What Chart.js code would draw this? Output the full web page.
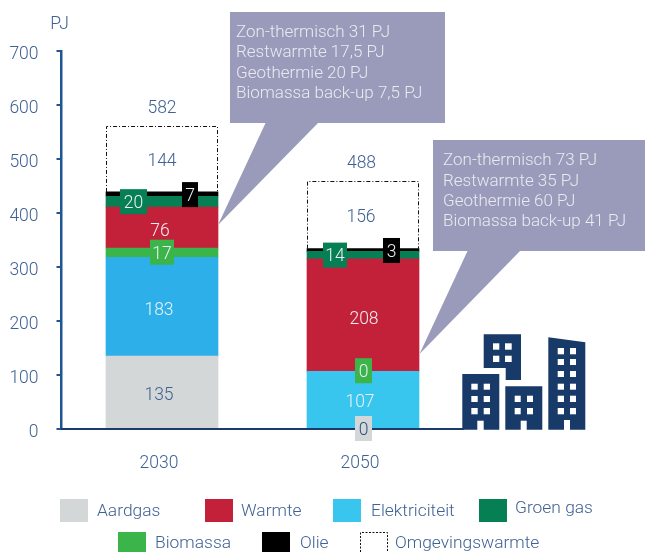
<!DOCTYPE html>
<html lang="nl">
<head>
<meta charset="utf-8">
<style>html,body{margin:0;padding:0;background:#fff}canvas{display:block}</style>
<script src="https://cdn.jsdelivr.net/npm/chart.js@4/dist/chart.umd.min.js"></script>
</head>
<body>
<canvas id="c" width="645" height="552"></canvas>
<script>
const categories = ['2030', '2050'];
const yTicks = [0, 100, 200, 300, 400, 500, 600, 700];

// Heights as drawn in the picture
const aardgas = [135, 0];
const elektriciteit = [183, 107];
const biomassa = [17, 0];
const warmte = [76, 208];
const groenGas = [20, 14];
const olie = [8, 5];
const omgevingswarmte = [122, 125];

// Numbers as printed in the picture
const printedOlie = [7, 3];
const printedOmgeving = [144, 156];
const totals = [582, 488];

const calloutLeft = ['Zon-thermisch 31 PJ', 'Restwarmte 17,5 PJ', 'Geothermie 20 PJ', 'Biomassa back-up 7,5 PJ'];
const calloutRight = ['Zon-thermisch 73 PJ', 'Restwarmte 35 PJ', 'Geothermie 60 PJ', 'Biomassa back-up 41 PJ'];

const FONT = '300 17.5px Roboto, "Liberation Sans", sans-serif';
const FONT_CALLOUT = '300 17px Roboto, "Liberation Sans", sans-serif';
const FONT_LEGEND = '300 17.4px Roboto, "Liberation Sans", sans-serif';
const BLUE_TEXT = '#3F6193';
const LIGHT_TEXT = '#EDF1F5';
const C = {
  grey: '#D3D7D7', red: '#C3203A', sky: '#2DB0EA', sky2: '#38C5EE',
  green: '#077F55', lime: '#3BB54A', black: '#000000',
  callout: '#9A9BBA', callText: '#E9EAF1', navy: '#173A68'
};

const datasets = [
  { label: 'Aardgas', data: aardgas, backgroundColor: C.grey },
  { label: 'Elektriciteit', data: elektriciteit, backgroundColor: [C.sky, C.sky2] },
  { label: 'Biomassa', data: biomassa, backgroundColor: C.lime },
  { label: 'Warmte', data: warmte, backgroundColor: C.red },
  { label: 'Groen gas', data: groenGas, backgroundColor: C.green },
  { label: 'Olie', data: olie, backgroundColor: C.black },
  { label: 'Omgevingswarmte', data: omgevingswarmte, backgroundColor: 'rgba(0,0,0,0)' }
].map(d => Object.assign(d, { stack: 's', barThickness: 112, borderWidth: 0 }));

// Data-label placement, one entry per dataset per bar: offset from the bar segment centre, optional box
const labelLayout = {
  Aardgas: [{ dx: -3, dy: 2, color: BLUE_TEXT }, { dx: 0.5, dy: -0.5, box: C.grey, w: 17, h: 25, color: '#2F4C7E' }],
  Elektriciteit: [{ dx: -3, dy: 2, color: LIGHT_TEXT }, { dx: -3, dy: 1.5, color: LIGHT_TEXT }],
  Biomassa: [{ dx: 0, dy: -0.5, box: C.lime, w: 24, h: 25, color: LIGHT_TEXT }, { dx: 0.5, dy: -0.5, box: C.lime, w: 17, h: 25, color: LIGHT_TEXT }],
  Warmte: [{ dx: -2, dy: 2, color: LIGHT_TEXT }, { dx: 1, dy: 2.5, color: LIGHT_TEXT }],
  'Groen gas': [{ dx: -28.5, dy: 0, box: C.green, w: 27, h: 25, color: LIGHT_TEXT }, { dx: -28, dy: 0, box: C.green, w: 24, h: 25, color: LIGHT_TEXT }],
  Olie: [{ dx: 28, dy: 0.5, box: C.black, w: 16, h: 25, color: LIGHT_TEXT }, { dx: 28.5, dy: 0.5, box: C.black, w: 17, h: 25, color: LIGHT_TEXT }],
  Omgevingswarmte: [{ dx: 0, dy: 0.5, color: BLUE_TEXT }, { dx: -2, dy: 0.5, color: BLUE_TEXT }]
};
const printedValue = (name, i, v) => name === 'Olie' ? printedOlie[i] : name === 'Omgevingswarmte' ? printedOmgeving[i] : v;

const legendRows = [
  { name: 'Aardgas', color: C.grey, sx: 60, tx: 97, top: 499, h: 23, ty: 512 },
  { name: 'Warmte', color: C.red, sx: 205, tx: 241, top: 499, h: 23, ty: 512 },
  { name: 'Elektriciteit', color: C.sky2, sx: 333, tx: 371, top: 499, h: 23, ty: 512 },
  { name: 'Groen gas', color: C.green, sx: 479, tx: 515, top: 499, h: 23, ty: 509 },
  { name: 'Biomassa', color: C.lime, sx: 118, tx: 155, top: 532, h: 20, ty: 544 },
  { name: 'Olie', color: C.black, sx: 262, tx: 300, top: 532, h: 20, ty: 544 },
  { name: 'Omgevingswarmte', color: null, sx: 360, tx: 395, top: 532, h: 20, ty: 544 }
];

function rect(ctx, x0, y0, x1, y1) { ctx.fillRect(x0, y0, x1 - x0, y1 - y0); }

function drawBuildings(ctx) {
  const poly = pts => { ctx.beginPath(); pts.forEach((p, i) => i ? ctx.lineTo(p[0], p[1]) : ctx.moveTo(p[0], p[1])); ctx.closePath(); ctx.fill(); };
  ctx.fillStyle = C.navy;
  poly([[462.3, 374], [499.3, 374], [499.3, 429.7], [462.3, 429.7]]);
  poly([[505.3, 386.3], [542.3, 386.3], [542.3, 429.7], [505.3, 429.7]]);
  poly([[483.7, 334.3], [521, 334.3], [521, 380], [505.7, 380], [505.7, 368], [483.7, 368]]);
  poly([[548.3, 337.3], [585.3, 342.3], [585.3, 429.7], [548.3, 429.7]]);
  ctx.fillStyle = '#fff';
  const win = (xs, ys) => xs.forEach(x => ys.forEach(y => rect(ctx, x[0], y[0], x[1], y[1])));
  win([[471.3, 477.7], [483.7, 490]], [[383.7, 389.7], [396, 402], [408, 414.3]]);
  win([[514.7, 520.7], [527, 533]], [[395.7, 402], [408, 414.3]]);
  win([[493, 499.3], [505, 511.7]], [[343.3, 349.7], [355.7, 362]]);
  win([[557.7, 564], [570, 576]], [[348, 354.3], [359, 365], [371, 377], [383.7, 389.7], [395.7, 402], [408, 414.3]]);
  rect(ctx, 477.3, 420.7, 483.7, 430);
  rect(ctx, 520.7, 420.7, 526.7, 430);
  rect(ctx, 564, 420, 570, 430);
}

function drawCallout(ctx, box, pointer, lines, textX, textYs) {
  ctx.fillStyle = C.callout;
  rect(ctx, box[0], box[1], box[2], box[3]);
  ctx.beginPath();
  ctx.moveTo(pointer[0][0], pointer[0][1]);
  ctx.lineTo(pointer[1][0], pointer[1][1]);
  ctx.lineTo(pointer[2][0], pointer[2][1]);
  ctx.closePath();
  ctx.fill();
  ctx.fillStyle = C.callText;
  ctx.font = FONT_CALLOUT;
  ctx.textAlign = 'left';
  ctx.textBaseline = 'middle';
  lines.forEach((t, i) => ctx.fillText(t, textX, textYs[i]));
}

const overlay = {
  id: 'overlay',
  afterDatasetsDraw(chart) {
    const ctx = chart.ctx;
    ctx.save();
    // Dashed outline of the Omgevingswarmte segment
    const last = chart.data.datasets.length - 1;
    ctx.strokeStyle = '#111';
    ctx.lineWidth = 1;
    ctx.setLineDash([4, 2, 1, 2]);
    chart.getDatasetMeta(last).data.forEach(el => {
      const x0 = el.x - el.width / 2, x1 = el.x + el.width / 2;
      ctx.beginPath();
      ctx.moveTo(Math.round(x0) + 0.5, el.base);
      ctx.lineTo(Math.round(x0) + 0.5, Math.round(el.y) + 0.5);
      ctx.lineTo(Math.round(x1) - 0.5, Math.round(el.y) + 0.5);
      ctx.lineTo(Math.round(x1) - 0.5, el.base);
      ctx.stroke();
    });
    ctx.setLineDash([]);
    ctx.restore();
  },
  afterDraw(chart) {
    const ctx = chart.ctx;
    ctx.save();
    drawCallout(ctx, [230, 12, 445, 123], [[266, 122], [319, 122], [218, 225]], calloutLeft, 236, [32.5, 52.5, 73.5, 93.5]);
    drawCallout(ctx, [433, 140, 645, 251], [[468, 250], [521, 250], [419.5, 354]], calloutRight, 443, [160.5, 181.5, 201.5, 221.5]);
    drawBuildings(ctx);

    // Data labels
    ctx.font = FONT;
    ctx.textAlign = 'center';
    ctx.textBaseline = 'middle';
    chart.data.datasets.forEach((ds, d) => {
      const layout = labelLayout[ds.label];
      chart.getDatasetMeta(d).data.forEach((el, i) => {
        const l = layout[i];
        const cx = el.x + l.dx, cy = (el.y + el.base) / 2 + l.dy;
        if (l.box) {
          ctx.fillStyle = l.box;
          ctx.fillRect(cx - l.w / 2, cy - l.h / 2, l.w, l.h);
        }
        ctx.fillStyle = l.color;
        ctx.fillText(String(printedValue(ds.label, i, ds.data[i])), cx, cy + 2);
      });
    });

    // Totals above the stacks
    const topMeta = chart.getDatasetMeta(chart.data.datasets.length - 1);
    ctx.fillStyle = BLUE_TEXT;
    totals.forEach((t, i) => ctx.fillText(String(t), topMeta.data[i].x + (i ? -1.5 : 0), topMeta.data[i].y - 17.5));

    // Unit
    ctx.fillText('PJ', 59.5, 24.5);

    // Legend
    ctx.font = FONT_LEGEND;
    ctx.textAlign = 'left';
    legendRows.forEach(r => {
      if (r.color) {
        ctx.fillStyle = r.color;
        ctx.fillRect(r.sx, r.top, 28, r.h);
      } else {
        ctx.strokeStyle = '#111';
        ctx.lineWidth = 1;
        ctx.setLineDash([2, 1.5]);
        ctx.beginPath();
        ctx.moveTo(r.sx + 0.5, r.top + r.h);
        ctx.lineTo(r.sx + 0.5, r.top + 0.5);
        ctx.lineTo(r.sx + 27.5, r.top + 0.5);
        ctx.lineTo(r.sx + 27.5, r.top + r.h);
        ctx.stroke();
        ctx.setLineDash([]);
      }
      ctx.fillStyle = BLUE_TEXT;
      ctx.fillText(r.name, r.tx, r.ty);
    });
    ctx.restore();
  }
};

new Chart(document.getElementById('c'), {
  type: 'bar',
  data: { labels: categories, datasets },
  plugins: [overlay],
  options: {
    responsive: false,
    animation: false,
    events: [],
    layout: { padding: { top: 51, right: 181.5, bottom: 0, left: 0 } },
    plugins: { legend: { display: false }, title: { display: false }, tooltip: { enabled: false } },
    scales: {
      x: {
        stacked: true,
        afterFit(s) { s.height = 123; },
        grid: { display: false, drawTicks: false },
        border: { display: true, color: '#1C3B6B', width: 2, z: 1 },
        ticks: { color: BLUE_TEXT, font: { family: 'Roboto', size: 17.5, weight: '300' }, padding: 24, labelOffset: -3, maxRotation: 0 }
      },
      y: {
        stacked: true,
        min: 0,
        max: 700,
        afterFit(s) { s.width = 61.5; },
        afterBuildTicks(s) { s.ticks = yTicks.map(v => ({ value: v })); },
        grid: { drawOnChartArea: false, drawTicks: true, tickLength: 5, color: '#1F5595', lineWidth: 2 },
        border: { display: true, color: '#1F5595', width: 2.5 },
        ticks: { color: BLUE_TEXT, font: { family: 'Roboto', size: 17.5, weight: '300' }, padding: 18, labelOffset: 3.5 }
      }
    }
  }
});
</script>
</body>
</html>
